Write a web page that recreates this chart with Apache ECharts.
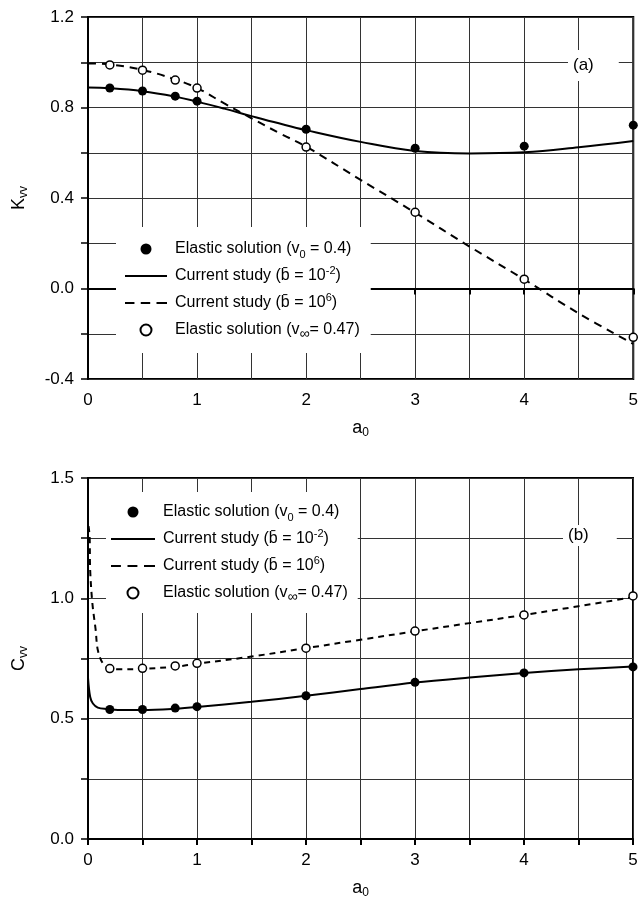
<!DOCTYPE html>
<html>
<head>
<meta charset="utf-8">
<script src="https://cdn.jsdelivr.net/npm/echarts@6/dist/echarts.min.js"></script>
<style>
  html, body { margin: 0; padding: 0; background: #fff; }
  #main { width: 641px; height: 902px; }
</style>
</head>
<body>
<div id="main"></div>
<script>
// ---- data ----
// elastic solutions (markers), same a0 for both panels
var aElastic = [0.2, 0.5, 0.8, 1, 2, 3, 4, 5];
var kvvElastic0 = [0.886, 0.873, 0.850, 0.828, 0.704, 0.620, 0.629, 0.722];
var kvvElasticInf = [0.988, 0.965, 0.921, 0.886, 0.625, 0.337, 0.041, -0.216];
var cvvElastic0 = [0.538, 0.538, 0.544, 0.550, 0.595, 0.651, 0.690, 0.715];
var cvvElasticInf = [0.708, 0.709, 0.719, 0.730, 0.793, 0.864, 0.931, 1.010];

// current study curves, panel (a)
var aCurveK = [0, 0.2, 0.5, 0.8, 1, 1.25, 1.5, 1.75, 2, 2.5, 3, 3.5, 4, 4.5, 5];
var kvvLow = [0.888, 0.885, 0.872, 0.848, 0.826, 0.795, 0.762, 0.730, 0.700, 0.648, 0.608, 0.597, 0.602, 0.624, 0.652];
var kvvHigh = [0.995, 0.990, 0.966, 0.924, 0.886, 0.818, 0.752, 0.688, 0.627, 0.480, 0.335, 0.185, 0.040, -0.110, -0.245];

// current study curves, panel (b)
var aCurveCLow = [0, 0.02, 0.045, 0.09, 0.17, 0.3, 0.5, 0.8, 1, 1.5, 2, 2.5, 3, 3.5, 4, 4.5, 5];
var cvvLow = [0.67, 0.59, 0.563, 0.546, 0.540, 0.536, 0.536, 0.541, 0.548, 0.570, 0.595, 0.623, 0.650, 0.671, 0.690, 0.705, 0.717];
var aCurveCHigh = [0.005, 0.015, 0.02, 0.04, 0.07, 0.09, 0.136, 0.2, 0.3, 0.5, 0.8, 1, 1.5, 2, 2.5, 3, 3.5, 4, 4.5, 5];
var cvvHigh = [1.30, 1.255, 1.117, 0.98, 0.87, 0.785, 0.73, 0.708, 0.705, 0.707, 0.716, 0.728, 0.758, 0.793, 0.828, 0.863, 0.897, 0.931, 0.967, 1.005];

var nameE0 = 'Elastic solution (v0 = 0.4)';
var nameLow = 'Current study (b = 10^-2)';
var nameHigh = 'Current study (b = 10^6)';
var nameEInf = 'Elastic solution (vinf = 0.47)';

function pairs(xs, ys) {
    return xs.map(function (x, i) { return [x, ys[i]]; });
}

var FONT = "'Liberation Sans', Arial, sans-serif";

var richText = {
    sub: { fontSize: 11, fontFamily: FONT, color: '#000', verticalAlign: 'bottom' },
    inf: { fontSize: 14, fontFamily: FONT, color: '#000', verticalAlign: 'bottom' },
    sup: { fontSize: 11, fontFamily: FONT, color: '#000', verticalAlign: 'top' }
};

function legendLabel(name) {
    if (name === nameE0) return 'Elastic solution (v{sub|0} = 0.4)';
    if (name === nameLow) return 'Current study (b\u0304 = 10{sup|-2})';
    if (name === nameHigh) return 'Current study (b\u0304 = 10{sup|6})';
    return 'Elastic solution (v{inf|\u221e}= 0.47)';
}

function makeXAxis(gridIndex) {
    return {
        gridIndex: gridIndex,
        type: 'value',
        min: 0, max: 5, interval: 0.5,
        name: 'a{sub|0}',
        nameLocation: 'middle',
        nameGap: 38,
        nameTextStyle: {
            fontSize: 18, fontFamily: FONT, color: '#000', lineHeight: 22,
            rich: { sub: { fontSize: 12, fontFamily: FONT, color: '#000', verticalAlign: 'bottom' } }
        },
        axisLine: { lineStyle: { color: '#000', width: 2 } },
        axisTick: { length: 6, lineStyle: { color: '#000', width: 2 } },
        axisLabel: {
            margin: 13, fontSize: 17, fontFamily: FONT, color: '#000',
            formatter: function (v) { return Math.abs(v - Math.round(v)) < 1e-6 ? String(Math.round(v)) : ''; }
        },
        splitLine: { show: true, lineStyle: { color: '#333', width: 1 } }
    };
}

function makeYAxis(gridIndex, min, max, step, labelStep, title) {
    return {
        gridIndex: gridIndex,
        type: 'value',
        min: min, max: max, interval: step,
        name: title,
        nameLocation: 'middle',
        nameGap: 58,
        nameRotate: 90,
        nameTextStyle: {
            fontSize: 18, fontFamily: FONT, color: '#000', lineHeight: 22,
            rich: { sub: { fontSize: 12, fontFamily: FONT, color: '#000', verticalAlign: 'bottom' } }
        },
        axisLine: { lineStyle: { color: '#000', width: 2 } },
        axisTick: { length: 7, lineStyle: { color: '#000', width: 1.5 } },
        axisLabel: {
            margin: 14, fontSize: 17, fontFamily: FONT, color: '#000',
            formatter: function (v) {
                var r = v / labelStep;
                return Math.abs(r - Math.round(r)) < 1e-6 ? v.toFixed(1) : '';
            }
        },
        splitLine: { show: true, lineStyle: { color: '#333', width: 1 } }
    };
}

// legend icons: plain line / dashed line, no marker on them
var ICON_SOLID = 'path://M0,0h40v2h-40z';
var ICON_DASH = 'path://M0,0h9v2h-9z M15,0h9v2h-9z M30,0h10v2h-10z';

function makeLegend(left, top, padding, itemWidth) {
    return {
        left: left, top: top,
        orient: 'vertical',
        backgroundColor: '#fff',
        padding: padding,
        itemWidth: itemWidth,
        itemHeight: 11,
        itemGap: 5,
        selectedMode: false,
        data: [
            { name: nameE0 },
            { name: nameLow, icon: ICON_SOLID, itemStyle: { color: '#000' } },
            { name: nameHigh, icon: ICON_DASH, itemStyle: { color: '#000' } },
            { name: nameEInf }
        ],
        formatter: legendLabel,
        textStyle: {
            fontSize: 16, fontFamily: FONT, color: '#000', lineHeight: 22,
            padding: [0, 0, 0, 3],
            rich: richText
        }
    };
}

function panelLabel(text, left, top, padding) {
    return {
        text: text, left: left, top: top,
        padding: padding,
        backgroundColor: '#fff',
        textStyle: { fontSize: 17, fontWeight: 'normal', fontFamily: FONT, color: '#000' }
    };
}

var chart = echarts.init(document.getElementById('main'), null, { renderer: 'canvas' });

var option = {
    animation: false,
    backgroundColor: '#fff',
    title: [
        panelLabel('(a)', 568, 50, [7, 25, 7, 5]),
        panelLabel('(b)', 563, 525, [2, 28, 2, 5])
    ],
    grid: [
        { left: 86, top: 17, width: 549, height: 362, show: true, borderColor: '#000', borderWidth: 2 },
        { left: 83, top: 478, width: 550, height: 361, show: true, borderColor: '#000', borderWidth: 2 }
    ],
    xAxis: [makeXAxis(0), makeXAxis(1)],
    yAxis: [
        makeYAxis(0, -0.4, 1.2, 0.2, 0.4, 'K{sub|vv}'),
        makeYAxis(1, 0, 1.5, 0.25, 0.5, 'C{sub|vv}')
    ],
    legend: [
        makeLegend(116, 227, [11, 11, 12, 9], 42),
        makeLegend(106, 492, [9, 10, 9, 5], 44)
    ],
    series: [
        // panel (a)
        {
            name: nameLow, type: 'line', xAxisIndex: 0, yAxisIndex: 0,
            data: pairs(aCurveK, kvvLow), smooth: 0.4, symbol: 'none',
            lineStyle: { color: '#000', width: 2 }, itemStyle: { color: '#000' }
        },
        {
            name: nameHigh, type: 'line', xAxisIndex: 0, yAxisIndex: 0,
            data: pairs(aCurveK, kvvHigh), smooth: 0.4, symbol: 'none',
            lineStyle: { color: '#000', width: 2, type: [8, 6] }, itemStyle: { color: '#000' }
        },
        {
            name: nameE0, type: 'scatter', xAxisIndex: 0, yAxisIndex: 0,
            data: pairs(aElastic, kvvElastic0), symbol: 'circle', symbolSize: 9,
            itemStyle: { color: '#000', opacity: 1 }, z: 5
        },
        {
            name: nameEInf, type: 'scatter', xAxisIndex: 0, yAxisIndex: 0,
            data: pairs(aElastic, kvvElasticInf), symbol: 'circle', symbolSize: 8,
            itemStyle: { color: '#fff', borderColor: '#000', borderWidth: 1.5, opacity: 1 }, z: 5
        },
        // panel (b)
        {
            name: nameLow, type: 'line', xAxisIndex: 1, yAxisIndex: 1,
            data: pairs(aCurveCLow, cvvLow), smooth: 0.35, symbol: 'none',
            lineStyle: { color: '#000', width: 2 }, itemStyle: { color: '#000' }
        },
        {
            name: nameHigh, type: 'line', xAxisIndex: 1, yAxisIndex: 1,
            data: pairs(aCurveCHigh, cvvHigh), smooth: 0.35, symbol: 'none',
            lineStyle: { color: '#000', width: 2, type: [6, 5] }, itemStyle: { color: '#000' }
        },
        {
            name: nameE0, type: 'scatter', xAxisIndex: 1, yAxisIndex: 1,
            data: pairs(aElastic, cvvElastic0), symbol: 'circle', symbolSize: 9,
            itemStyle: { color: '#000', opacity: 1 }, z: 5
        },
        {
            name: nameEInf, type: 'scatter', xAxisIndex: 1, yAxisIndex: 1,
            data: pairs(aElastic, cvvElasticInf), symbol: 'circle', symbolSize: 8,
            itemStyle: { color: '#fff', borderColor: '#000', borderWidth: 1.5, opacity: 1 }, z: 5
        }
    ]
};

chart.setOption(option);
</script>
</body>
</html>
